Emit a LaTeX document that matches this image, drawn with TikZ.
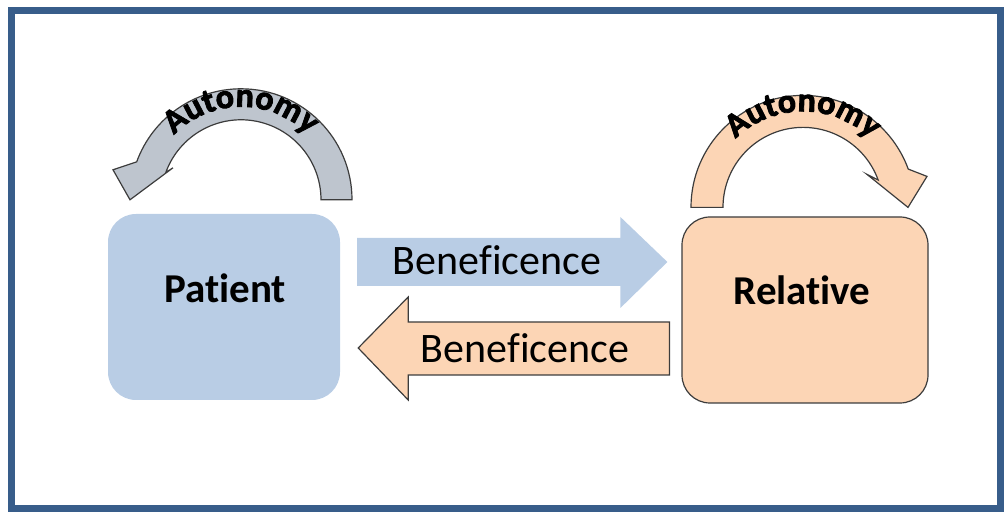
\documentclass[tikz,border=0pt]{standalone}
\usepackage{fontspec}
\setmainfont{Carlito}[Ligatures=NoCommon]
\newfontfamily\arcfont{Carlito}[BoldFeatures={FakeBold=2.5}]
\usetikzlibrary{calc,decorations.text}
\definecolor{boxblue}{RGB}{185,205,229}
\definecolor{peach}{RGB}{252,213,181}
\definecolor{arcgray}{RGB}{190,197,206}
\definecolor{framecol}{RGB}{56,93,138}
\definecolor{edge}{RGB}{60,60,60}
\begin{document}
\begin{tikzpicture}[x=1pt, y=1pt,
    mainbox/.style = {rounded corners=28pt, minimum width=232pt, minimum height=186pt},
    boxlabel/.style = {font=\fontsize{41}{41}\selectfont\bfseries},
    benef/.style = {font=\fontsize{42}{42}\selectfont},
    outl/.style = {draw=edge, line width=1.2pt},
    autonomy/.style = {decorate, decoration={text along path, text align=center,
        text={|\arcfont\fontsize{34}{34}\selectfont\bfseries|Autonomy}}}]
    \useasboundingbox (0,0) rectangle (1005,513);
    \draw[framecol, line width=7pt] (11,4) rectangle (1000,502);

    \node[mainbox, fill=boxblue] (patient) at (224,206) {};
    \node[mainbox, fill=peach, outl, minimum width=246pt] (relative) at (805,203) {};
    \node[boxlabel] (ptext) at (225,225) {Patient};
    \node[boxlabel] (rtext) at (802,223) {Relative};

    % beneficence arrows
    \coordinate (bt) at ($(patient.east)+(17,45)$);
    \coordinate (bh) at ($(relative.west)+(-14,48)$);
    \fill[boxblue] ($(bt)+(0,-24)$) -- ($(bh)+(-47,-24)$) -- ++(0,-22) -- (bh)
        -- ($(bh)+(-47,45)$) -- ++(0,-21) -- ($(bt)+(0,24)$) -- cycle;
    \coordinate (lh) at ($(patient.east)+(18,-41)$);
    \coordinate (lt) at ($(relative.west)+(-12,-38)$);
    \draw[outl, fill=peach] (lh) -- ++(50,51) -- ++(0,-25) -- ($(lt)+(0,26)$) -- ++(0,-53)
        -- ($(lh)+(50,-27)$) -- ++(0,-25) -- cycle;
    \node[benef] (b1) at (497,253) {Beneficence};
    \node[benef] (b2) at (525,165) {Beneficence};

    % autonomy arcs
    \coordinate (c1) at ($(patient.north)+(17,14)$);
    \coordinate (c2) at ($(relative.north)+(-2,9)$);
    \draw[outl, fill=arcgray] ($(c1)+(80,0)$) -- ($(c1)+(111,0)$) arc[start angle=0, end angle=160, radius=111]
        -- ($(c1)+(-128,30)$) -- ($(c1)+(-111,0)$) -- ($(c1)+(-68,32)$) -- ($(c1)+(160:80)$)
        arc[start angle=160, end angle=0, radius=80] -- cycle;
    \draw[outl, fill=peach] ($(c2)+(-80,0)$) -- ($(c2)+(-112,0)$) arc[start angle=180, end angle=20, radius=112]
        -- ($(c2)+(124,31)$) -- ($(c2)+(105,0)$) -- ($(c2)+(64,33)$) -- ($(c2)+(20:80)$)
        arc[start angle=20, end angle=180, radius=80] -- cycle;
    \path[autonomy] ($(c1)+(150:93)$) arc[start angle=150, end angle=30, radius=93];
    \path[autonomy] ($(c2)+(150:96)$) arc[start angle=150, end angle=30, radius=96];
\end{tikzpicture}
\end{document}
